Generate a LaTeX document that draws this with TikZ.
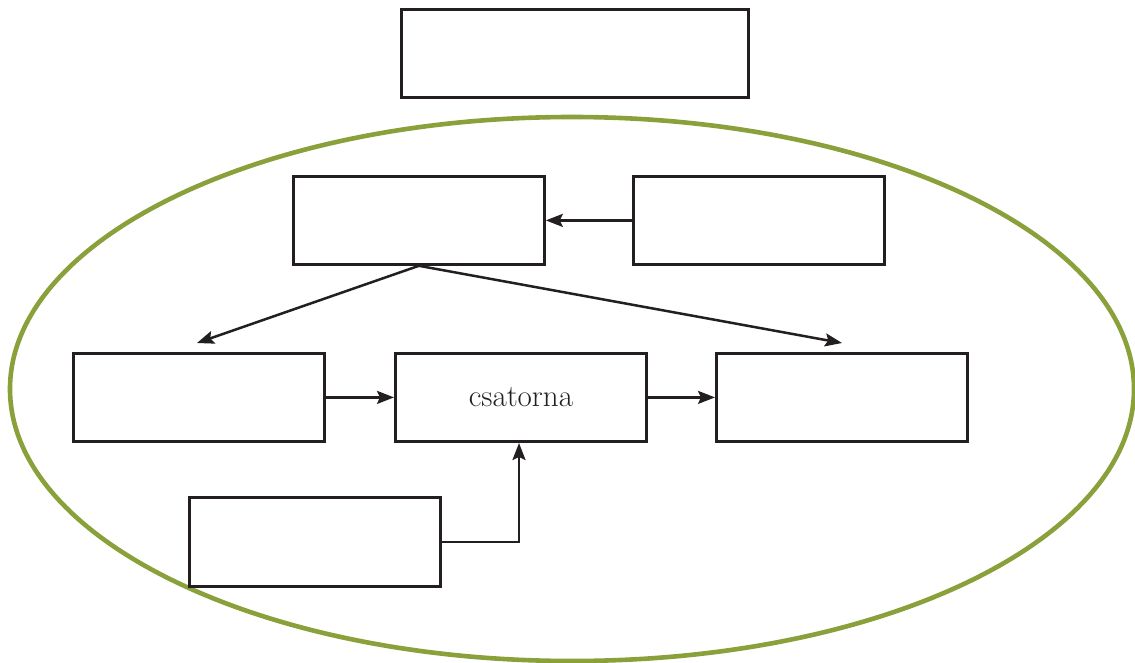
\documentclass[tikz,border=0pt]{standalone}
\usetikzlibrary{arrows.meta}
\definecolor{olive}{RGB}{138,160,58}
\definecolor{ink}{RGB}{35,31,32}
\begin{document}
\begin{tikzpicture}[x=1pt,y=-1pt,
  box/.style={draw=ink,line width=2.8pt,minimum width=251pt,minimum height=88pt,inner sep=0pt,anchor=north west,text=ink},
  conn/.style={draw=ink,line width=2.5pt,-{Stealth[length=17pt,width=13pt,inset=3pt]}}]
\useasboundingbox (0,0) rectangle (1135,663);
\draw[olive,line width=4.6pt] (572,389) ellipse [x radius=562, y radius=272];
\node[box,minimum width=347pt] (top) at (400,8) {};
\node[box] (a) at (292,175) {};
\node[box] (b) at (632,175) {};
\node[box] (c) at (72,352) {};
\node[box,font=\fontsize{31}{36}\selectfont] (d) at (394,352) {csatorna};
\node[box] (e) at (715,352) {};
\node[box,minimum height=89pt] (f) at (188,496) {};
\coordinate (ca) at (197,343);
\coordinate (ea) at (842,343);
\coordinate (dbot) at (519,443);
\draw[conn] (b.west) -- (a.east);
\draw[conn] (a.south) -- (ca);
\draw[conn] (a.south) -- (ea);
\draw[conn] (c.east) -- (d.west);
\draw[conn] (d.east) -- (e.west);
\draw[conn] (f.east) -| (dbot);
\end{tikzpicture}
\end{document}
